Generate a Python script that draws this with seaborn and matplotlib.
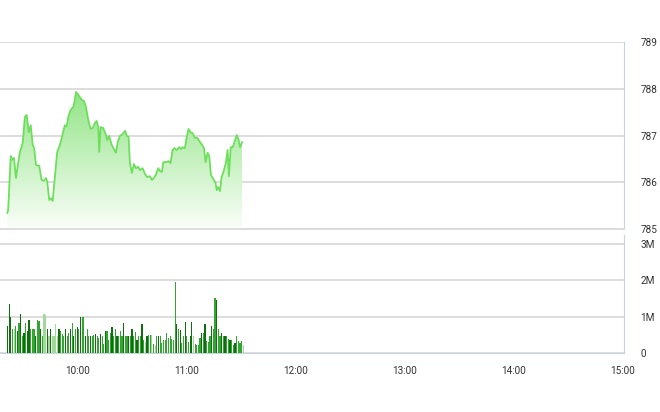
import numpy as np
import pandas as pd
import matplotlib
matplotlib.use("Agg")
import matplotlib.pyplot as plt
import seaborn as sns
from matplotlib.colors import LinearSegmentedColormap

# ---- data (minutes after 09:00) ----
price_minutes = [
    21.1, 21.6, 23.0, 23.7, 24.8, 25.9, 27.1, 28.1, 29.6, 30.8,
    31.8, 32.9, 34.0, 35.1, 35.9, 36.9, 38.7, 40.0, 41.3, 42.4,
    43.1, 44.2, 45.1, 46.1, 47.3, 48.6, 50.1, 51.2, 52.8, 53.8,
    54.7, 56.0, 57.4, 58.3, 58.9, 59.8, 61.1, 62.2, 63.3, 64.4,
    65.7, 67.0, 68.1, 69.4, 70.3, 71.2, 71.7, 72.5, 73.9, 75.4,
    76.1, 77.2, 78.6, 79.8, 80.9, 81.9, 83.1, 84.6, 86.0, 86.8,
    87.9, 88.6, 89.7, 90.8, 91.9, 93.2, 94.1, 95.6, 96.9, 98.1,
    99.6, 100.7, 101.8, 102.9, 104.2, 105.1, 106.2, 107.0, 108.4, 109.9,
    111.0, 112.1, 113.2, 114.3, 115.8, 116.7, 117.6, 118.9, 119.8, 120.9,
    122.0, 123.1, 124.4, 125.7, 127.2, 128.3, 129.4, 130.3, 131.4, 132.3,
    133.2, 134.5, 135.8, 136.4, 137.2, 138.2, 139.1, 140.4, 141.5, 142.4,
    143.1, 144.1, 145.2, 146.0, 147.4, 148.5, 149.2, 150.4,
]
price_values = [
    785.34, 785.41, 786.56, 786.48, 786.52, 786.09, 786.41, 786.65, 786.84, 787.40,
    787.44, 787.07, 787.22, 786.80, 786.73, 786.37, 786.35, 786.05, 786.03, 786.09,
    786.01, 785.62, 785.66, 785.60, 786.11, 786.65, 786.80, 786.97, 787.22, 787.19,
    787.40, 787.55, 787.61, 787.76, 787.93, 787.89, 787.82, 787.76, 787.74, 787.61,
    787.33, 787.14, 787.16, 787.27, 787.31, 787.18, 786.65, 787.18, 787.16, 787.01,
    786.90, 786.99, 786.80, 786.71, 786.63, 786.86, 786.99, 787.03, 787.10, 786.99,
    786.97, 786.41, 786.20, 786.39, 786.30, 786.33, 786.26, 786.30, 786.18, 786.11,
    786.13, 786.05, 786.09, 786.16, 786.30, 786.24, 786.22, 786.43, 786.43, 786.45,
    786.41, 786.69, 786.73, 786.69, 786.75, 786.71, 786.75, 786.73, 786.95, 787.14,
    787.07, 787.05, 786.95, 786.95, 786.86, 786.80, 786.73, 786.43, 786.63, 786.56,
    786.16, 786.07, 785.98, 785.83, 785.90, 785.81, 786.11, 786.26, 786.43, 786.69,
    786.13, 786.75, 786.75, 786.84, 787.01, 786.90, 786.75, 786.86,
]
volume_millions = [
    0.74, 1.36, 0.99, 0.67, 0.67, 0.74, 0.60, 0.83, 1.08, 0.48,
    0.55, 0.83, 0.60, 0.92, 0.66, 0.66, 0.67, 0.48, 0.92, 0.88,
    0.66, 0.48, 1.08, 1.04, 0.65, 0.48, 0.67, 0.46, 0.46, 0.81,
    0.46, 0.67, 0.60, 0.51, 0.48, 0.65, 0.48, 0.55, 0.65, 0.83,
    0.46, 0.65, 0.71, 0.65, 0.99, 0.99, 0.99, 0.48, 0.65, 0.48,
    0.48, 0.48, 0.50, 0.53, 0.48, 0.41, 0.53, 0.46, 0.26, 0.60,
    0.60, 0.37, 0.55, 0.72, 0.48, 0.65, 0.48, 0.48, 0.60, 0.46,
    0.83, 0.48, 0.48, 0.48, 0.46, 0.67, 0.48, 0.57, 0.37, 0.48,
    0.48, 0.80, 0.37, 0.29, 0.48, 0.50, 0.50, 0.50, 0.26, 0.23,
    0.48, 0.46, 0.48, 0.28, 0.37, 0.37, 0.55, 0.41, 0.46, 0.39,
    0.37, 1.95, 0.80, 0.65, 0.62, 0.28, 0.48, 0.86, 0.46, 0.29,
    0.48, 0.86, 0.46, 0.25, 0.23, 0.23, 0.41, 0.55, 0.55, 0.80,
    0.32, 0.29, 0.48, 0.74, 0.65, 1.52, 1.45, 0.67, 0.46, 0.55,
    0.46, 0.48, 0.48, 0.39, 0.37, 0.37, 0.23, 0.28, 0.46, 0.32,
    0.28, 0.34, 0.23,
]
volume_tone = [
    "d", "d", "d", "m", "l", "m", "d", "m", "d", "m",
    "d", "m", "d", "d", "m", "m", "m", "d", "m", "m",
    "d", "m", "l", "l", "d", "l", "d", "l", "l", "l",
    "l", "d", "m", "m", "m", "d", "m", "m", "d", "m",
    "d", "m", "d", "m", "d", "m", "m", "d", "m", "m",
    "d", "m", "m", "d", "m", "m", "d", "m", "m", "d",
    "m", "m", "m", "d", "m", "m", "d", "m", "m", "m",
    "d", "m", "m", "d", "m", "d", "m", "m", "d", "m",
    "m", "d", "m", "l", "d", "m", "m", "l", "m", "l",
    "m", "d", "m", "m", "m", "m", "m", "m", "m", "m",
    "m", "m", "d", "m", "d", "m", "m", "d", "m", "m",
    "d", "d", "l", "m", "m", "m", "m", "d", "m", "d",
    "m", "m", "m", "d", "m", "m", "d", "m", "m", "d",
    "m", "d", "m", "m", "d", "m", "m", "d", "m", "m",
    "m", "m", "l",
]
volume_start, volume_end = 21.2, 151.0
price_ticks = [785, 786, 787, 788, 789]
vol_ticks = [0, 1, 2, 3]
vol_labels = ["0", "1M", "2M", "3M"]
hour_ticks = [60, 120, 180, 240, 300, 360]
hour_labels = ["10:00", "11:00", "12:00", "13:00", "14:00", "15:00"]

# ---- style ----
sns.set_style("white")
plt.rcParams["font.family"] = ["Roboto", "DejaVu Sans"]
GRID = "#dadada"
FRAME = "#c9d3df"
TEXT = "#333333"
LINE = "#6ddf5c"
tone_colors = {"d": "#0d700d", "m": "#33a533", "l": "#a3d89b"}

fig = plt.figure(figsize=(6.6, 4.12), dpi=100)
ax1 = fig.add_axes([0.0, 1 - 229 / 412, 624 / 660, 187 / 412])
ax2 = fig.add_axes([0.0, 1 - 353 / 412, 624 / 660, 118 / 412], sharex=ax1)

XMIN, XMAX = 17.1, 360.6

# price line + gradient
df = pd.DataFrame({"minute": price_minutes, "price": price_values})
poly = ax1.fill_between(df["minute"], df["price"], 785, facecolor="none", edgecolor="none")
cmap = LinearSegmentedColormap.from_list("g", ["#fbfefa", "#8fe483"])
grad = np.linspace(0, 1, 256).reshape(-1, 1)
img = ax1.imshow(grad, cmap=cmap, origin="lower", aspect="auto",
                 extent=[df["minute"].min(), df["minute"].max(), 785, 788.0], zorder=1)
img.set_clip_path(poly.get_paths()[0], transform=ax1.transData)
sns.lineplot(data=df, x="minute", y="price", ax=ax1, color=LINE, lw=1.3, zorder=3)

ax1.set_xlim(XMIN, XMAX)
ax1.set_ylim(785, 789)
ax1.set_yticks(price_ticks)
ax1.set_yticklabels([str(t) for t in price_ticks])
ax1.yaxis.tick_right()
ax1.tick_params(axis="y", length=0, pad=12, labelsize=7.2, labelcolor=TEXT)
ax1.tick_params(axis="x", length=0, labelbottom=False)
ax1.grid(axis="y", color=GRID, lw=1.3)
ax1.set_axisbelow(True)
ax1.set_xlabel("")
ax1.set_ylabel("")
for s in ["left", "top"]:
    ax1.spines[s].set_visible(False)
ax1.spines["right"].set_color(FRAME)
ax1.spines["bottom"].set_color(GRID)
ax1.spines["bottom"].set_linewidth(1.3)

# volume bars
n = len(volume_millions)
step = (volume_end - volume_start) / (n - 1)
vol_x = [volume_start + i * step for i in range(n)]
vdf = pd.DataFrame({"minute": vol_x, "vol": volume_millions, "tone": volume_tone})
ax2.bar(vdf["minute"], vdf["vol"], width=step * 0.7,
        color=[tone_colors[t] for t in vdf["tone"]], zorder=3, linewidth=0)
ax2.set_ylim(0, 3.25)
ax2.set_yticks(vol_ticks)
ax2.set_yticklabels(vol_labels)
ax2.yaxis.tick_right()
ax2.tick_params(axis="y", length=0, pad=12, labelsize=7.2, labelcolor=TEXT)
ax2.set_xticks(hour_ticks)
ax2.set_xticklabels(hour_labels)
ax2.tick_params(axis="x", length=5, width=1, color=FRAME, pad=4, labelsize=7.2, labelcolor=TEXT)
ax2.grid(axis="y", color=GRID, lw=1.3)
ax2.set_axisbelow(True)
ax2.spines["left"].set_visible(False)
ax2.spines["top"].set_visible(False)
for s in ["right", "bottom"]:
    ax2.spines[s].set_color(FRAME)
ax2.set_xlim(XMIN, XMAX)

fig.savefig("out.png", dpi=100)
